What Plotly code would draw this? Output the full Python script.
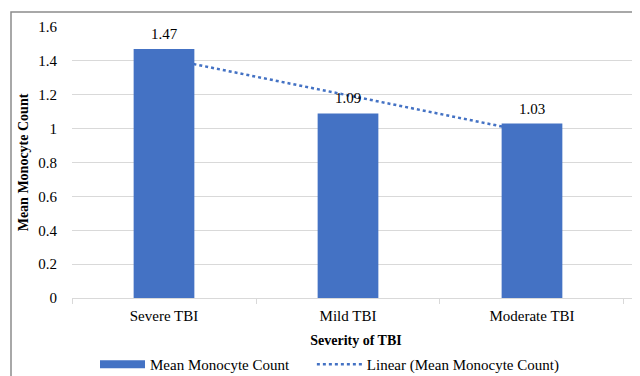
import numpy as np
import plotly.graph_objects as go

categories = ["Severe TBI", "Mild TBI", "Moderate TBI"]
mean_monocyte = [1.47, 1.09, 1.03]
y_ticks = [0, 0.2, 0.4, 0.6, 0.8, 1, 1.2, 1.4, 1.6]
y_tick_labels = ["0", "0.2", "0.4", "0.6", "0.8", "1", "1.2", "1.4", "1.6"]

BLUE = "#4472C4"
FONT = "Liberation Serif, Times New Roman, serif"

# linear trendline fitted to the bar values
idx = np.arange(len(mean_monocyte))
slope, intercept = np.polyfit(idx, mean_monocyte, 1)
trend = list(slope * idx + intercept)

fig = go.Figure()

# trendline on base axes (drawn behind the bars)
fig.add_trace(go.Scatter(
    x=categories, y=trend, mode="lines",
    line=dict(color=BLUE, width=2.5, dash="dot"),
    name="Linear (Mean Monocyte Count)", showlegend=False,
    xaxis="x", yaxis="y", hoverinfo="skip",
))

# bars on overlaying axes so they sit on top of the trendline
fig.add_trace(go.Bar(
    x=categories, y=mean_monocyte, width=0.33,
    marker=dict(color=BLUE, line=dict(width=0)),
    name="Mean Monocyte Count", showlegend=False,
    xaxis="x2", yaxis="y2",
))

# legend entries (each in its own legend box)
fig.add_trace(go.Scatter(
    x=[None], y=[None], mode="lines",
    line=dict(color=BLUE, width=8),
    name="Mean Monocyte Count", showlegend=True, legend="legend",
))
fig.add_trace(go.Scatter(
    x=[None], y=[None], mode="lines",
    line=dict(color=BLUE, width=2.5, dash="dot"),
    name="Linear (Mean Monocyte Count)", showlegend=True, legend="legend2",
))

# data labels
annotations = [
    dict(x=c, y=v, xref="x2", yref="y2", text=f"{v:.2f}", showarrow=False,
         yanchor="bottom", yshift=5, font=dict(family=FONT, size=15, color="#000"))
    for c, v in zip(categories, mean_monocyte)
]

xr = [-0.5, 2.587]
leg_common = dict(orientation="h", xanchor="left", y=-0.245, yanchor="middle",
                  font=dict(family=FONT, size=15, color="#000"), itemwidth=45,
                  bgcolor="rgba(0,0,0,0)")
fig.update_layout(
    width=632, height=376,
    margin=dict(l=64, r=0, t=19, b=86),
    paper_bgcolor="white", plot_bgcolor="white",
    font=dict(family=FONT, size=15, color="#000"),
    annotations=annotations,
    xaxis=dict(
        type="category", categoryorder="array", categoryarray=categories,
        range=xr, showgrid=False, showline=True, linecolor="#d9d9d9", linewidth=1,
        ticks="outside", tickson="boundaries", ticklen=5, tickcolor="#d9d9d9",
        ticklabelstandoff=4,
        tickfont=dict(family=FONT, size=15, color="#000"), automargin=False,
        title=dict(text="<b>Severity of TBI</b>", font=dict(family=FONT, size=14, color="#000"), standoff=12),
    ),
    yaxis=dict(
        range=[0, 1.6], tickvals=y_ticks, ticktext=y_tick_labels,
        showgrid=True, gridcolor="#d9d9d9", gridwidth=1, zeroline=False,
        showline=False, ticks="", ticklabelstandoff=14, automargin=False,
        tickfont=dict(family=FONT, size=15, color="#000"),
        title=dict(text="<b>Mean Monocyte Count</b>", font=dict(family=FONT, size=14, color="#000"), standoff=6),
    ),
    xaxis2=dict(type="category", categoryorder="array", categoryarray=categories,
                range=xr, overlaying="x", matches="x", visible=False),
    yaxis2=dict(range=[0, 1.6], overlaying="y", matches="y", visible=False),
    legend=dict(x=0.0405, **leg_common),
    legend2=dict(x=0.4223, **leg_common),
    shapes=[dict(type="rect", xref="paper", yref="paper",
                 x0=(11 - 72) / 568, x1=1.2, y0=-0.5, y1=1 + (27 - 12) / 271,
                 line=dict(color="#8c8c8c", width=1.5), fillcolor="rgba(0,0,0,0)", layer="above")],
)

fig.write_html("out.html")
